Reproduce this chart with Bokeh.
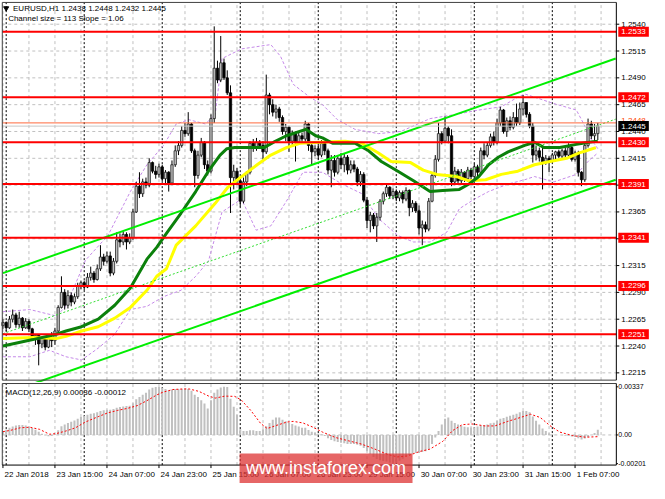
from bokeh.plotting import figure
from bokeh.layouts import column
from bokeh.models import Range1d
from bokeh.core.properties import value
from bokeh.embed import file_html
from bokeh.resources import INLINE

FONT = value("Liberation Sans")
FS = value("8px")

# ---------------- texts ----------------
symbol_text = "EURUSD,H1  1.2438 1.2448 1.2432 1.2445"
channel_text = "Channel size = 113 Slope = 1.06"
macd_text = "MACD(12,26,9) 0.00036 -0.00012"
watermark_text = "www.instaforex.com"

time_labels = ["22 Jan 2018", "23 Jan 15:00", "24 Jan 07:00", "24 Jan 23:00",
               "25 Jan 15:00", "26 Jan 07:00", "26 Jan 23:00", "29 Jan 15:00",
               "30 Jan 07:00", "30 Jan 23:00", "31 Jan 15:00", "1 Feb 07:00"]
time_label_idx = [0, 16, 32, 48, 64, 80, 96, 112, 128, 144, 160, 176]
day_start_idx = [1, 25, 49, 73, 97, 121, 145, 169]
grid_idx = [0, 8, 16, 24, 32, 40, 48, 56, 64, 72, 80, 88, 96, 104, 112, 120,
            128, 136, 144, 152, 160, 168, 176, 184]

price_ticks = [1.2215, 1.2240, 1.2265, 1.2290, 1.2315, 1.2340, 1.2365, 1.2390,
               1.2415, 1.2440, 1.2465, 1.2490, 1.2515, 1.2540]
level_values = [1.2533, 1.2472, 1.2430, 1.2391, 1.2341, 1.2296, 1.2251]
high_line = 1.2448
bid_line = 1.2445
macd_ticks = [0.00337, 0.0, -0.00201]
macd_tick_labels = ["0.00337", "0.00", "-0.00201"]

# ---------------- EURUSD H1 candles ----------------
opens = [
    1.2259, 1.2262, 1.2257, 1.2265, 1.2269, 1.2260, 1.2266, 1.2257, 1.2263, 1.2256, 1.2247, 1.2250,
    1.2242, 1.2247, 1.2239, 1.2248, 1.2245, 1.2254, 1.2276, 1.2290, 1.2278, 1.2287, 1.2281, 1.2286,
    1.2296, 1.2299, 1.2295, 1.2304, 1.2308, 1.2302, 1.2312, 1.2323, 1.2319, 1.2324, 1.2308, 1.2319,
    1.2339, 1.2337, 1.2344, 1.2337, 1.2341, 1.2365, 1.2389, 1.2382, 1.2393, 1.2390, 1.2411, 1.2403,
    1.2400, 1.2407, 1.2396, 1.2402, 1.2392, 1.2409, 1.2422, 1.2427, 1.2441, 1.2438, 1.2447, 1.2422,
    1.2399, 1.2418, 1.2430, 1.2409, 1.2403, 1.2452, 1.2499, 1.2488, 1.2504, 1.2490, 1.2476, 1.2397,
    1.2403, 1.2394, 1.2375, 1.2393, 1.2402, 1.2429, 1.2426, 1.2430, 1.2427, 1.2421, 1.2474, 1.2465,
    1.2458, 1.2461, 1.2453, 1.2440, 1.2444, 1.2431, 1.2438, 1.2430, 1.2436, 1.2433, 1.2447, 1.2427,
    1.2421, 1.2424, 1.2418, 1.2429, 1.2422, 1.2404, 1.2413, 1.2402, 1.2415, 1.2409, 1.2416, 1.2404,
    1.2409, 1.2405, 1.2393, 1.2400, 1.2376, 1.2357, 1.2362, 1.2352, 1.2360, 1.2375, 1.2382, 1.2388,
    1.2380, 1.2384, 1.2378, 1.2383, 1.2377, 1.2385, 1.2369, 1.2373, 1.2366, 1.2350, 1.2353, 1.2349,
    1.2375, 1.2399, 1.2414, 1.2438, 1.2431, 1.2443, 1.2436, 1.2393, 1.2403, 1.2394, 1.2402, 1.2396,
    1.2404, 1.2398, 1.2407, 1.2402, 1.2422, 1.2418, 1.2427, 1.2435, 1.2430, 1.2448, 1.2460, 1.2440,
    1.2450, 1.2444, 1.2453, 1.2448, 1.2461, 1.2467, 1.2456, 1.2445, 1.2418, 1.2422, 1.2416, 1.2411,
    1.2415, 1.2412, 1.2418, 1.2421, 1.2417, 1.2422, 1.2418, 1.2425, 1.2414, 1.2420, 1.2402, 1.2395,
    1.2427, 1.2447, 1.2436, 1.2438]
highs = [
    1.2265, 1.2263, 1.2268, 1.2274, 1.2271, 1.2272, 1.2267, 1.2266, 1.2265, 1.2257, 1.2251, 1.2251,
    1.2249, 1.2248, 1.2251, 1.2253, 1.2257, 1.2278, 1.2305, 1.2293, 1.2292, 1.2290, 1.2289, 1.2299,
    1.2301, 1.2301, 1.2308, 1.2314, 1.2310, 1.2316, 1.2334, 1.2326, 1.2328, 1.2328, 1.2322, 1.2346,
    1.2345, 1.2347, 1.2346, 1.2345, 1.2368, 1.2393, 1.2402, 1.2396, 1.2397, 1.2415, 1.2412, 1.2408,
    1.2410, 1.2409, 1.2404, 1.2403, 1.2413, 1.2427, 1.2431, 1.2445, 1.2448, 1.2458, 1.2448, 1.2424,
    1.2422, 1.2434, 1.2431, 1.2413, 1.2456, 1.2538, 1.2506, 1.2529, 1.2508, 1.2497, 1.2483, 1.2409,
    1.2406, 1.2396, 1.2397, 1.2403, 1.2431, 1.2433, 1.2434, 1.2432, 1.2431, 1.2493, 1.2476, 1.2470,
    1.2465, 1.2463, 1.2455, 1.2447, 1.2445, 1.2441, 1.2440, 1.2440, 1.2439, 1.2450, 1.2448, 1.2430,
    1.2427, 1.2429, 1.2432, 1.2431, 1.2424, 1.2418, 1.2418, 1.2418, 1.2420, 1.2419, 1.2418, 1.2413,
    1.2413, 1.2407, 1.2403, 1.2402, 1.2379, 1.2365, 1.2364, 1.2364, 1.2377, 1.2384, 1.2391, 1.2389,
    1.2387, 1.2386, 1.2385, 1.2385, 1.2388, 1.2386, 1.2376, 1.2375, 1.2371, 1.2357, 1.2356, 1.2378,
    1.2402, 1.2418, 1.2448, 1.2440, 1.2454, 1.2445, 1.2442, 1.2407, 1.2405, 1.2405, 1.2403, 1.2407,
    1.2406, 1.2410, 1.2409, 1.2425, 1.2429, 1.2430, 1.2438, 1.2440, 1.2452, 1.2463, 1.2461, 1.2453,
    1.2454, 1.2458, 1.2466, 1.2467, 1.2474, 1.2467, 1.2458, 1.2448, 1.2427, 1.2425, 1.2427, 1.2418,
    1.2417, 1.2420, 1.2422, 1.2423, 1.2424, 1.2425, 1.2429, 1.2427, 1.2422, 1.2422, 1.2403, 1.2429,
    1.2452, 1.2450, 1.2447, 1.2448]
lows = [
    1.2256, 1.2254, 1.2256, 1.2262, 1.2257, 1.2257, 1.2254, 1.2256, 1.2253, 1.2245, 1.2241, 1.2222,
    1.2238, 1.2236, 1.2238, 1.2239, 1.2241, 1.2251, 1.2275, 1.2274, 1.2275, 1.2277, 1.2279, 1.2284,
    1.2293, 1.2292, 1.2294, 1.2301, 1.2299, 1.2301, 1.2310, 1.2315, 1.2317, 1.2305, 1.2306, 1.2317,
    1.2332, 1.2334, 1.2330, 1.2335, 1.2339, 1.2364, 1.2378, 1.2379, 1.2387, 1.2388, 1.2401, 1.2396,
    1.2397, 1.2393, 1.2391, 1.2384, 1.2390, 1.2407, 1.2418, 1.2425, 1.2435, 1.2436, 1.2420, 1.2388,
    1.2396, 1.2416, 1.2405, 1.2399, 1.2401, 1.2448, 1.2485, 1.2486, 1.2488, 1.2474, 1.2364, 1.2386,
    1.2391, 1.2370, 1.2373, 1.2389, 1.2400, 1.2421, 1.2422, 1.2424, 1.2412, 1.2419, 1.2456, 1.2454,
    1.2452, 1.2449, 1.2437, 1.2431, 1.2421, 1.2427, 1.2412, 1.2428, 1.2429, 1.2430, 1.2422, 1.2409,
    1.2417, 1.2414, 1.2416, 1.2418, 1.2400, 1.2388, 1.2398, 1.2400, 1.2405, 1.2402, 1.2400, 1.2401,
    1.2402, 1.2389, 1.2389, 1.2374, 1.2350, 1.2346, 1.2349, 1.2337, 1.2357, 1.2372, 1.2379, 1.2377,
    1.2377, 1.2375, 1.2375, 1.2373, 1.2375, 1.2361, 1.2365, 1.2364, 1.2344, 1.2334, 1.2346, 1.2347,
    1.2374, 1.2397, 1.2412, 1.2428, 1.2430, 1.2429, 1.2389, 1.2390, 1.2391, 1.2392, 1.2393, 1.2393,
    1.2394, 1.2396, 1.2398, 1.2400, 1.2414, 1.2416, 1.2425, 1.2427, 1.2428, 1.2445, 1.2438, 1.2435,
    1.2441, 1.2442, 1.2445, 1.2446, 1.2455, 1.2453, 1.2443, 1.2411, 1.2413, 1.2412, 1.2386, 1.2409,
    1.2402, 1.2411, 1.2414, 1.2415, 1.2415, 1.2416, 1.2416, 1.2412, 1.2412, 1.2398, 1.2389, 1.2393,
    1.2425, 1.2433, 1.2431, 1.2432]
closes = [
    1.2262, 1.2257, 1.2265, 1.2269, 1.2260, 1.2266, 1.2257, 1.2263, 1.2256, 1.2247, 1.2250, 1.2242,
    1.2247, 1.2239, 1.2248, 1.2245, 1.2254, 1.2276, 1.2290, 1.2278, 1.2287, 1.2281, 1.2286, 1.2296,
    1.2299, 1.2295, 1.2304, 1.2308, 1.2302, 1.2312, 1.2323, 1.2319, 1.2324, 1.2308, 1.2319, 1.2339,
    1.2337, 1.2344, 1.2337, 1.2341, 1.2365, 1.2389, 1.2382, 1.2393, 1.2390, 1.2411, 1.2403, 1.2400,
    1.2407, 1.2396, 1.2402, 1.2392, 1.2409, 1.2422, 1.2427, 1.2441, 1.2438, 1.2447, 1.2422, 1.2399,
    1.2418, 1.2430, 1.2409, 1.2403, 1.2452, 1.2499, 1.2488, 1.2504, 1.2490, 1.2476, 1.2397, 1.2403,
    1.2394, 1.2375, 1.2393, 1.2402, 1.2429, 1.2426, 1.2430, 1.2427, 1.2421, 1.2474, 1.2465, 1.2458,
    1.2461, 1.2453, 1.2440, 1.2444, 1.2431, 1.2438, 1.2430, 1.2436, 1.2433, 1.2447, 1.2427, 1.2421,
    1.2424, 1.2418, 1.2429, 1.2422, 1.2404, 1.2413, 1.2402, 1.2415, 1.2409, 1.2416, 1.2404, 1.2409,
    1.2405, 1.2393, 1.2400, 1.2376, 1.2357, 1.2362, 1.2352, 1.2360, 1.2375, 1.2382, 1.2388, 1.2380,
    1.2384, 1.2378, 1.2383, 1.2377, 1.2385, 1.2369, 1.2373, 1.2366, 1.2350, 1.2353, 1.2349, 1.2375,
    1.2399, 1.2414, 1.2438, 1.2431, 1.2443, 1.2436, 1.2393, 1.2403, 1.2394, 1.2402, 1.2396, 1.2404,
    1.2398, 1.2407, 1.2402, 1.2422, 1.2418, 1.2427, 1.2435, 1.2430, 1.2448, 1.2460, 1.2440, 1.2450,
    1.2444, 1.2453, 1.2448, 1.2461, 1.2467, 1.2456, 1.2445, 1.2418, 1.2422, 1.2416, 1.2411, 1.2415,
    1.2412, 1.2418, 1.2421, 1.2417, 1.2422, 1.2418, 1.2425, 1.2414, 1.2420, 1.2402, 1.2395, 1.2427,
    1.2447, 1.2436, 1.2438, 1.2445]

# ---------------- moving averages ----------------
ma_fast_idx = [0, 9.2, 16.4, 19.4, 24.2, 29.3, 34.4, 39.2, 44.3, 47.3, 50.3, 54.8, 59.3, 63.2,
               66.8, 68.9, 71.3, 80.3, 83.3, 87.2, 93.2, 96.2, 98.3, 101.4, 108.3, 112.5, 116.4,
               121.5, 126.3, 131.4, 135.3, 140.4, 143.4, 146.4, 149.4, 152.4, 155.4, 160.5,
               163.5, 166.5, 171.3, 176.4, 180.3, 183]
ma_fast_val = [1.2240, 1.2246, 1.2251, 1.2254, 1.2258, 1.2265, 1.2278, 1.2294, 1.2321, 1.2332,
               1.2345, 1.2364, 1.2384, 1.2403, 1.2418, 1.2424, 1.2425, 1.2425, 1.2430, 1.2436,
               1.2442, 1.2436, 1.2434, 1.2429, 1.2429, 1.2422, 1.2412, 1.2403, 1.2394, 1.2384,
               1.2385, 1.2386, 1.2391, 1.2398, 1.2409, 1.2416, 1.2421, 1.2427, 1.2430, 1.2425,
               1.2425, 1.2428, 1.2430, 1.2431]
ma_slow_idx = [0, 9.2, 16.4, 19.4, 24.2, 29.3, 34.4, 39.2, 44.3, 47.3, 50.3, 53.3, 59.3, 65.3,
               69.2, 74.3, 78.2, 82.4, 87.2, 91.4, 97.4, 105.3, 110.4, 115.5, 119.4, 125.4,
               129.3, 133.5, 139.5, 143.4, 148.5, 153.3, 158.4, 163.5, 168.3, 173.4, 177.3,
               179.4, 182.4]
ma_slow_val = [1.2247, 1.2248, 1.2247, 1.2249, 1.2254, 1.2258, 1.2266, 1.2276, 1.2292, 1.2305,
               1.2312, 1.2334, 1.2352, 1.2373, 1.2388, 1.2400, 1.2409, 1.2418, 1.2425, 1.2429,
               1.2430, 1.2431, 1.2429, 1.2420, 1.2412, 1.2411, 1.2404, 1.2400, 1.2398, 1.2394,
               1.2395, 1.2400, 1.2403, 1.2409, 1.2412, 1.2415, 1.2420, 1.2422, 1.2425]

# ---------------- envelope bands (violet, dashed) ----------------
band_up_idx = [0, 8.3, 16.4, 19.4, 25.4, 32.3, 39.2, 44.3, 49.4, 53.3, 57.2, 62.3, 65.3,
               67.4, 73.4, 82.4, 85.4, 89.3, 94.4, 98.3, 102.9, 108.3, 115.5, 122.4, 131.4,
               139.5, 146.4, 153.3, 158.4, 160.5, 163.5, 169.5, 176.4, 178.5, 180.9, 183]
band_up_val = [1.2272, 1.2274, 1.2268, 1.2277, 1.2320, 1.2343, 1.2384, 1.2409, 1.2427, 1.2447,
               1.2451, 1.2447, 1.2456, 1.2508, 1.2517, 1.2521, 1.2510, 1.2484, 1.2472, 1.2465,
               1.2451, 1.2442, 1.2438, 1.2440, 1.2452, 1.2456, 1.2460, 1.2463, 1.2472, 1.2475,
               1.2472, 1.2466, 1.2460, 1.2448, 1.2433, 1.2424]
band_dn_idx = [0, 8.3, 14.3, 19.4, 24.2, 29.3, 34.4, 39.2, 44.3, 49.4, 54.8, 59.3, 63.2, 67.4,
               73.4, 77.9, 82.4, 87.2, 92.3, 98.3, 104.3, 110.4, 115.5, 121.5, 126.3, 131.4,
               136.5, 140.4, 145.1, 149.4, 155.4, 160.5, 163.5, 169.5, 176.4, 180.3, 183]
band_dn_val = [1.2230, 1.2230, 1.2236, 1.2230, 1.2227, 1.2238, 1.2251, 1.2274, 1.2277, 1.2286,
               1.2292, 1.2305, 1.2319, 1.2365, 1.2377, 1.2348, 1.2352, 1.2375, 1.2402, 1.2402,
               1.2391, 1.2382, 1.2359, 1.2343, 1.2337, 1.2337, 1.2346, 1.2368, 1.2377, 1.2384,
               1.2391, 1.2395, 1.2398, 1.2393, 1.2400, 1.2413, 1.2420]

# ---------------- regression channel ----------------
chan_idx = [0, 188.5]
chan_upper = [1.2308, 1.2508]
chan_mid = [1.22515, 1.24515]
chan_lower = [1.2195, 1.2395]

# ---------------- MACD(12,26,9) ----------------
macd_hist = [
    0.00027, 0.00036, 0.00050, 0.00059, 0.00066, 0.00070, 0.00070, 0.00066, 0.00059, 0.00048, 0.00036, 0.00023,
    0.00009, -0.00002, -0.00009, -0.00007, 0.00005, 0.00032, 0.00061, 0.00073, 0.00084, 0.00093, 0.00102, 0.00114,
    0.00125, 0.00132, 0.00141, 0.00148, 0.00152, 0.00159, 0.00168, 0.00173, 0.00177, 0.00177, 0.00182, 0.00191,
    0.00195, 0.00200, 0.00202, 0.00204, 0.00222, 0.00250, 0.00266, 0.00281, 0.00295, 0.00318, 0.00331, 0.00336,
    0.00336, 0.00331, 0.00322, 0.00313, 0.00318, 0.00322, 0.00322, 0.00322, 0.00325, 0.00322, 0.00309, 0.00281,
    0.00266, 0.00243, 0.00220, 0.00186, 0.00243, 0.00295, 0.00318, 0.00333, 0.00337, 0.00335, 0.00254, 0.00197,
    0.00141, 0.00039, 0.00027, 0.00027, 0.00032, 0.00032, 0.00027, 0.00027, 0.00039, 0.00061, 0.00084, 0.00107,
    0.00123, 0.00123, 0.00107, 0.00095, 0.00084, 0.00077, 0.00066, 0.00059, 0.00050, 0.00050, 0.00034, 0.00023,
    0.00016, 0.00009, 0.00005, -0.00007, -0.00023, -0.00036, -0.00045, -0.00050, -0.00054, -0.00059, -0.00064, -0.00064,
    -0.00064, -0.00068, -0.00075, -0.00091, -0.00114, -0.00136, -0.00154, -0.00168, -0.00177, -0.00182, -0.00186, -0.00194,
    -0.00201, -0.00196, -0.00180, -0.00166, -0.00150, -0.00141, -0.00132, -0.00127, -0.00127, -0.00120, -0.00114, -0.00098,
    -0.00064, -0.00018, 0.00027, 0.00073, 0.00114, 0.00123, 0.00100, 0.00084, 0.00073, 0.00064, 0.00057, 0.00054,
    0.00052, 0.00054, 0.00059, 0.00066, 0.00068, 0.00073, 0.00082, 0.00086, 0.00100, 0.00114, 0.00118, 0.00127,
    0.00134, 0.00141, 0.00148, 0.00159, 0.00168, 0.00168, 0.00159, 0.00129, 0.00100, 0.00073, 0.00045, 0.00027,
    0.00011, 0.00005, 0.00002, 0.00000, -0.00002, -0.00005, -0.00005, -0.00011, -0.00014, -0.00023, -0.00032, -0.00025,
    -0.00014, 0.00000, 0.00014, 0.00036]
signal_idx = [0, 2.3, 5.3, 8.3, 11.3, 14.3, 16.3, 19.3, 22.3, 25.3, 29.3, 32.3, 35.3, 38.3,
              41.3, 44.3, 47.3, 49.3, 52.3, 55.3, 57.3, 60.3, 63.3, 65.3, 68.3, 71.3, 73.3,
              76.3, 79.3, 81.3, 84.3, 87.3, 89.3, 92.3, 95.3, 98.3, 102.3, 106.3, 110.3, 114.3,
              118.3, 121.3, 124.3, 128.3, 131.3, 135.3, 138.3, 141.3, 144.3, 148.3, 151.3,
              155.3, 159.3, 162.3, 165.3, 168.3, 171.3, 175.3, 179.3, 183]
signal_val = [0.00023, 0.00032, 0.00050, 0.00054, 0.00039, 0.00005, 0.00009, 0.00027, 0.00050,
              0.00090, 0.00128, 0.00155, 0.00172, 0.00186, 0.00205, 0.00240, 0.00280, 0.00300,
              0.00318, 0.00322, 0.00322, 0.00305, 0.00272, 0.00258, 0.00272, 0.00270, 0.00245,
              0.00170, 0.00080, 0.00045, 0.00068, 0.00090, 0.00095, 0.00084, 0.00055, 0.00020,
              -0.00018, -0.00041, -0.00064, -0.00098, -0.00136, -0.00154, -0.00148, -0.00115,
              -0.00100, -0.00045, 0.00030, 0.00072, 0.00077, 0.00063, 0.00063, 0.00095, 0.00123,
              0.00145, 0.00122, 0.00065, 0.00020, -0.00005, -0.00016, -0.00012]

# ---------------- layout constants (bar-index / value units) ----------------
XR = (-0.75, 198.9)          # whole page width, bars
LEFT = -0.2                  # left border of the panes
AX = 188.7                   # price-scale line
LBL_X = 190.2                # left edge of scale labels
BOX_X, BOX_W = 194.0, 9.4    # scale label boxes
MAIN_TOP, MAIN_BOT = 1.25603, 1.22082
MACD_TOP, MACD_BOT = 0.00360, -0.00211
TIME_Y = -0.00279
GRID = "#C0C0C0"
BORDER = "#404040"

n = len(closes)
idx = list(range(n))
up_i = [i for i in idx if closes[i] >= opens[i]]
dn_i = [i for i in idx if closes[i] < opens[i]]


def make_fig(h, yr):
    f = figure(width=649, height=h, x_range=Range1d(*XR), y_range=Range1d(*yr),
               x_axis_location=None, y_axis_location=None, toolbar_location=None,
               output_backend="svg", min_border=0, outline_line_color=None,
               background_fill_color="white", border_fill_color="white")
    f.grid.visible = False
    return f


# ================= price pane =================
p = make_fig(382, (1.22060, 1.25621))

# grid
p.segment(x0=grid_idx, y0=[MAIN_BOT] * len(grid_idx), x1=grid_idx, y1=[MAIN_TOP] * len(grid_idx),
          color=GRID, line_dash="3 3", line_width=1)
p.segment(x0=[LEFT] * len(price_ticks), y0=price_ticks, x1=[AX] * len(price_ticks), y1=price_ticks,
          color=GRID, line_dash="3 3", line_width=1)
# day separators
p.segment(x0=day_start_idx, y0=[MAIN_BOT] * len(day_start_idx), x1=day_start_idx,
          y1=[MAIN_TOP] * len(day_start_idx), color="black", line_dash="2 2", line_width=1)

# bands
p.line(band_up_idx, band_up_val, color="#C58AE8", line_dash="3 2", line_width=1)
p.line(band_dn_idx, band_dn_val, color="#C58AE8", line_dash="3 2", line_width=1)

# candles
p.segment(x0=idx, y0=highs, x1=idx, y1=lows, color="black", line_width=1)
p.vbar(x=up_i, width=0.72, top=[closes[i] for i in up_i], bottom=[opens[i] for i in up_i],
       fill_color="#C4C4C4", line_color="#202020", line_width=0.8)
p.vbar(x=dn_i, width=0.72, top=[opens[i] for i in dn_i], bottom=[closes[i] for i in dn_i],
       fill_color="black", line_color="black", line_width=0.8)

# moving averages
p.line(ma_slow_idx, ma_slow_val, color="#FFFF00", line_width=3)
p.line(ma_fast_idx, ma_fast_val, color="#0B800B", line_width=3)

# regression channel
p.line(chan_idx, chan_upper, color="#00EE00", line_width=2)
p.line(chan_idx, chan_lower, color="#00EE00", line_width=2)
p.line(chan_idx, chan_mid, color="#33DD33", line_width=1, line_dash="2 2")

# horizontal levels
p.segment(x0=[LEFT] * len(level_values), y0=level_values, x1=[AX] * len(level_values),
          y1=level_values, color="#FF0000", line_width=2)
p.segment(x0=[LEFT], y0=[bid_line], x1=[AX], y1=[bid_line], color="#C8C8C8", line_width=1)
p.segment(x0=[LEFT], y0=[high_line], x1=[AX], y1=[high_line], color="#FF6A3D", line_width=1)

# pane border and price scale
p.segment(x0=[LEFT, LEFT, LEFT], y0=[MAIN_BOT, MAIN_TOP, MAIN_BOT],
          x1=[LEFT, AX, AX], y1=[MAIN_TOP, MAIN_TOP, MAIN_BOT], color=BORDER, line_width=1)
p.segment(x0=[AX], y0=[MAIN_BOT], x1=[AX], y1=[MAIN_TOP], color="black", line_width=1)
p.segment(x0=[AX] * len(price_ticks), y0=price_ticks, x1=[AX + 0.9] * len(price_ticks),
          y1=price_ticks, color="black", line_width=1)
shown = [t for t in price_ticks if min(abs(t - lv) for lv in level_values) > 0.00035]
p.text(x=[LBL_X] * len(shown), y=shown, text=["%.4f" % t for t in shown],
       text_font=FONT, text_font_size=FS, text_baseline="middle", text_align="left",
       text_color="black")

# level boxes on the scale
p.rect(x=[BOX_X] * len(level_values), y=level_values, width=BOX_W, height=10,
       height_units="screen", fill_color="#FF0000", line_color=None)
p.text(x=[BOX_X] * len(level_values), y=level_values, text=["%.4f" % v for v in level_values],
       text_font=FONT, text_font_size=FS, text_baseline="middle", text_align="center",
       text_color="white")
p.text(x=[BOX_X], y=[high_line], y_offset=[-2], text=["%.4f" % high_line], text_font=FONT,
       text_font_size=FS, text_baseline="middle", text_align="center", text_color="#FF4500")
p.rect(x=[BOX_X], y=[bid_line], width=BOX_W, height=10, height_units="screen",
       fill_color="black", line_color=None)
p.text(x=[BOX_X], y=[bid_line], text=["%.4f" % bid_line], text_font=FONT, text_font_size=FS,
       text_baseline="middle", text_align="center", text_color="white")

# header
p.scatter([1.0], [1.25549], marker="inverted_triangle", size=5, color="black")
p.text(x=[3.1], y=[1.25549], text=[symbol_text], text_font=FONT, text_font_size=FS,
       text_baseline="middle", text_align="left", text_color="black")
p.text(x=[1.6], y=[1.25450], text=[channel_text], text_font=FONT, text_font_size=FS,
       text_baseline="middle", text_align="left", text_color="black")

# ================= MACD pane =================
m = make_fig(101, (-0.00340, 0.003672))

m.segment(x0=grid_idx, y0=[MACD_BOT] * len(grid_idx), x1=grid_idx, y1=[MACD_TOP] * len(grid_idx),
          color=GRID, line_dash="3 3", line_width=1)
m.segment(x0=[LEFT], y0=[0.0], x1=[AX], y1=[0.0], color=GRID, line_dash="3 3", line_width=1)
m.segment(x0=day_start_idx, y0=[MACD_BOT] * len(day_start_idx), x1=day_start_idx,
          y1=[MACD_TOP] * len(day_start_idx), color="black", line_dash="2 2", line_width=1)

m.vbar(x=idx, top=macd_hist, bottom=0, width=0.62, fill_color="#C0C0C0", line_color=None)
m.line(signal_idx, signal_val, color="#FF0000", line_dash="2 2", line_width=1)

m.segment(x0=[LEFT, LEFT], y0=[MACD_BOT, MACD_TOP], x1=[LEFT, AX], y1=[MACD_TOP, MACD_TOP],
          color=BORDER, line_width=1)
m.segment(x0=[LEFT, AX], y0=[MACD_BOT, MACD_BOT], x1=[AX, AX], y1=[MACD_BOT, MACD_TOP],
          color="black", line_width=1)
m.segment(x0=[AX] * len(macd_ticks), y0=macd_ticks, x1=[AX + 0.5] * len(macd_ticks),
          y1=macd_ticks, color="black", line_width=1)
m.text(x=[189.3] * len(macd_ticks), y=macd_ticks, text=macd_tick_labels, text_font=FONT,
       text_font_size=value("7px"), text_baseline="middle", text_align="left",
       text_color="black")

# time scale
m.segment(x0=time_label_idx, y0=[MACD_BOT] * len(time_label_idx), x1=time_label_idx,
          y1=[MACD_BOT - 0.00021] * len(time_label_idx), color="black", line_width=1)
m.text(x=[t + 0.5 for t in time_label_idx], y=[TIME_Y] * len(time_label_idx), text=time_labels,
       text_font=FONT, text_font_size=FS, text_baseline="middle", text_align="left",
       text_color="black")

m.text(x=[0.8], y=[0.00299], text=[macd_text], text_font=FONT, text_font_size=FS,
       text_baseline="middle", text_align="left", text_color="black")

# watermark
m.rect(x=[99.4], y=[-0.00239], width=53.2, height=31, height_units="screen",
       fill_color="#DD3333", fill_alpha=0.75, line_color=None)
m.text(x=[99.4], y=[-0.00232], text=[watermark_text], text_font=FONT,
       text_font_size=value("18px"), text_baseline="middle", text_align="center",
       text_color="white")

layout = column(p, m, spacing=0)
open("out.html", "w").write(file_html(layout, INLINE))
